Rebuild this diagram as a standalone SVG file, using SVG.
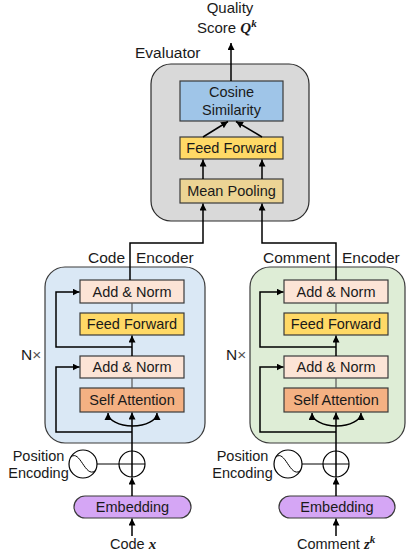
<svg xmlns="http://www.w3.org/2000/svg" width="407" height="559" viewBox="0 0 407 559">
<defs>
<marker id="ah" viewBox="0 0 10 10" refX="10" refY="5" markerWidth="7" markerHeight="7" markerUnits="userSpaceOnUse" orient="auto-start-reverse">
<path d="M0,0 L10,5 L0,10 z" fill="#000"/>
</marker>
<style>
text{font-family:"Liberation Sans",Arial,sans-serif;fill:#1a1a1a}
.bt{font-size:14.5px;text-anchor:middle}
.lb{font-size:15.5px}
.m{font-family:"Liberation Serif","Times New Roman",serif;font-weight:bold;font-style:italic}
.box{stroke:#3a3a3a;stroke-width:1.2}
.ln{stroke:#000;stroke-width:1.5;fill:none}
.lg{stroke:#555;stroke-width:1.2;fill:none}
.arr{stroke:#000;stroke-width:1.5;fill:none;marker-end:url(#ah)}
</style>
</defs>
<rect width="407" height="559" fill="#fff"/>

<g id="evaluator">
<rect x="151" y="64" width="158" height="157" rx="20" fill="#d9d9d9" stroke="#2a2a2a" stroke-width="1.2"/>
<text class="lb" x="135" y="58">Evaluator</text>
</g>
<g id="cosine">
<rect class="box" x="180" y="81" width="103" height="40" fill="#9fc5e8"/>
<text class="bt" x="231.5" y="97">Cosine</text>
<text class="bt" x="231.5" y="115">Similarity</text>
</g>
<g id="eval-ff">
<rect class="box" x="180" y="137" width="103" height="22" fill="#ffd966"/>
<text class="bt" x="231.5" y="153">Feed Forward</text>
</g>
<g id="mean-pooling">
<rect class="box" x="180" y="179" width="103" height="24" fill="#ecd494"/>
<text class="bt" x="231.5" y="196">Mean Pooling</text>
</g>
<g id="output">
<text x="230" y="13" style="font-size:15px;text-anchor:middle">Quality</text>
<text x="197" y="33" style="font-size:15px">Score <tspan class="m">Q</tspan><tspan class="m" dy="-6" style="font-size:11px">k</tspan></text>
</g>

<!-- Code encoder -->
<g id="code-encoder">
<rect x="45" y="267" width="160" height="176" rx="20" fill="#dae8f5" stroke="#3a3a3a" stroke-width="1.2"/>
<text class="lb" x="88" y="263">Code</text>
<text class="lb" x="136" y="263">Encoder</text>
<text class="lb" x="21" y="360">N<tspan style="fill:#555">×</tspan></text>
</g>
<g id="code-addnorm1">
<rect class="box" x="80" y="280" width="104" height="23" fill="#fce4d6"/>
<text class="bt" x="132" y="297">Add &amp; Norm</text>
</g>
<g id="code-ff">
<rect class="box" x="80" y="313" width="104" height="22" fill="#ffd966"/>
<text class="bt" x="132" y="329">Feed Forward</text>
</g>
<g id="code-addnorm2">
<rect class="box" x="80" y="356" width="104" height="22" fill="#fce4d6"/>
<text class="bt" x="132" y="372">Add &amp; Norm</text>
</g>
<g id="code-selfattn">
<rect class="box" x="80" y="388" width="104" height="24" fill="#f4b183"/>
<text class="bt" x="132" y="405">Self Attention</text>
</g>
<g id="code-posenc">
<circle cx="83" cy="464" r="14" fill="#fff" stroke="#000" stroke-width="1.2"/>
<path d="M71,457 C80,449 85,478 95,471" fill="none" stroke="#000" stroke-width="1"/>
<text x="38.5" y="461" style="font-size:14.5px;text-anchor:middle">Position</text>
<text x="38.5" y="478" style="font-size:14.5px;text-anchor:middle">Encoding</text>
</g>
<g id="code-add">
<circle cx="132" cy="464" r="13" fill="#fff" stroke="#000" stroke-width="1.2"/>
<line x1="119" y1="464" x2="145" y2="464" stroke="#000" stroke-width="1"/>
</g>
<g id="code-embedding">
<rect x="74" y="496" width="117" height="22" rx="11" fill="#d5a6f5" stroke="#3a3a3a" stroke-width="1.2"/>
<text class="bt" x="132.5" y="512">Embedding</text>
</g>
<g id="code-input">
<text x="110" y="549" style="font-size:14.5px">Code <tspan class="m" style="font-size:15px">x</tspan></text>
</g>

<!-- Comment encoder -->
<g id="comment-encoder">
<rect x="250" y="267" width="155" height="176" rx="20" fill="#deedd6" stroke="#3a3a3a" stroke-width="1.2"/>
<text class="lb" x="263" y="263">Comment</text>
<text class="lb" x="342" y="263">Encoder</text>
<text class="lb" x="226" y="360">N<tspan style="fill:#555">×</tspan></text>
</g>
<g id="comment-addnorm1">
<rect class="box" x="284" y="280" width="104" height="23" fill="#fce4d6"/>
<text class="bt" x="336" y="297">Add &amp; Norm</text>
</g>
<g id="comment-ff">
<rect class="box" x="284" y="313" width="104" height="22" fill="#ffd966"/>
<text class="bt" x="336" y="329">Feed Forward</text>
</g>
<g id="comment-addnorm2">
<rect class="box" x="284" y="356" width="104" height="22" fill="#fce4d6"/>
<text class="bt" x="336" y="372">Add &amp; Norm</text>
</g>
<g id="comment-selfattn">
<rect class="box" x="284" y="388" width="104" height="24" fill="#f4b183"/>
<text class="bt" x="336" y="405">Self Attention</text>
</g>
<g id="comment-posenc">
<circle cx="288" cy="464" r="14" fill="#fff" stroke="#000" stroke-width="1.2"/>
<path d="M276,457 C285,449 290,478 300,471" fill="none" stroke="#000" stroke-width="1"/>
<text x="242.5" y="461" style="font-size:14.5px;text-anchor:middle">Position</text>
<text x="242.5" y="478" style="font-size:14.5px;text-anchor:middle">Encoding</text>
</g>
<g id="comment-add">
<circle cx="336" cy="464" r="13" fill="#fff" stroke="#000" stroke-width="1.2"/>
<line x1="323" y1="464" x2="349" y2="464" stroke="#000" stroke-width="1"/>
</g>
<g id="comment-embedding">
<rect x="279" y="496" width="116" height="22" rx="11" fill="#d5a6f5" stroke="#3a3a3a" stroke-width="1.2"/>
<text class="bt" x="337" y="512">Embedding</text>
</g>
<g id="comment-input">
<text x="297" y="549" style="font-size:14.5px">Comment <tspan class="m" style="font-size:15px">z</tspan><tspan class="m" dy="-6" style="font-size:11px">k</tspan></text>
</g>

<g id="connectors">
<!-- evaluator -->
<line class="arr" x1="231" y1="81" x2="231" y2="43"/>
<line class="arr" x1="203" y1="137" x2="228" y2="121.5"/>
<line class="arr" x1="262" y1="137" x2="236" y2="121.5"/>
<line class="arr" x1="203" y1="179" x2="203" y2="159.5"/>
<line class="arr" x1="262" y1="179" x2="262" y2="159.5"/>
<polyline class="arr" points="130,280 130,243 203,243 203,203.5"/>
<polyline class="arr" points="336,280 336,243 262,243 262,203.5"/>
<!-- code encoder -->
<line class="lg" x1="132" y1="303" x2="132" y2="313"/>
<line class="lg" x1="132" y1="378" x2="132" y2="388"/>
<line class="arr" x1="132" y1="356" x2="132" y2="335.5"/>
<polyline class="arr" points="132,347 56,347 56,292 79.5,292"/>
<polyline class="arr" points="132,432 56,432 56,367 79.5,367"/>
<line class="arr" x1="132" y1="477" x2="132" y2="412.5"/>
<path d="M108,413 A24.5,13 0 0 0 157,413" class="ln" marker-start="url(#ah)" marker-end="url(#ah)"/>
<line class="ln" x1="97" y1="464" x2="119" y2="464" style="stroke-width:1"/>
<line class="arr" x1="132" y1="496" x2="132" y2="477.5"/>
<line class="arr" x1="132" y1="536" x2="132" y2="518.5"/>
<!-- comment encoder -->
<line class="lg" x1="336" y1="303" x2="336" y2="313"/>
<line class="lg" x1="336" y1="378" x2="336" y2="388"/>
<line class="arr" x1="336" y1="356" x2="336" y2="335.5"/>
<polyline class="arr" points="336,347 260,347 260,292 283.5,292"/>
<polyline class="arr" points="336,432 260,432 260,367 283.5,367"/>
<line class="arr" x1="336" y1="477" x2="336" y2="412.5"/>
<path d="M312,413 A24.5,13 0 0 0 361,413" class="ln" marker-start="url(#ah)" marker-end="url(#ah)"/>
<line class="ln" x1="302" y1="464" x2="323" y2="464" style="stroke-width:1"/>
<line class="arr" x1="336" y1="496" x2="336" y2="477.5"/>
<line class="arr" x1="336" y1="536" x2="336" y2="518.5"/>
</g>
</svg>
